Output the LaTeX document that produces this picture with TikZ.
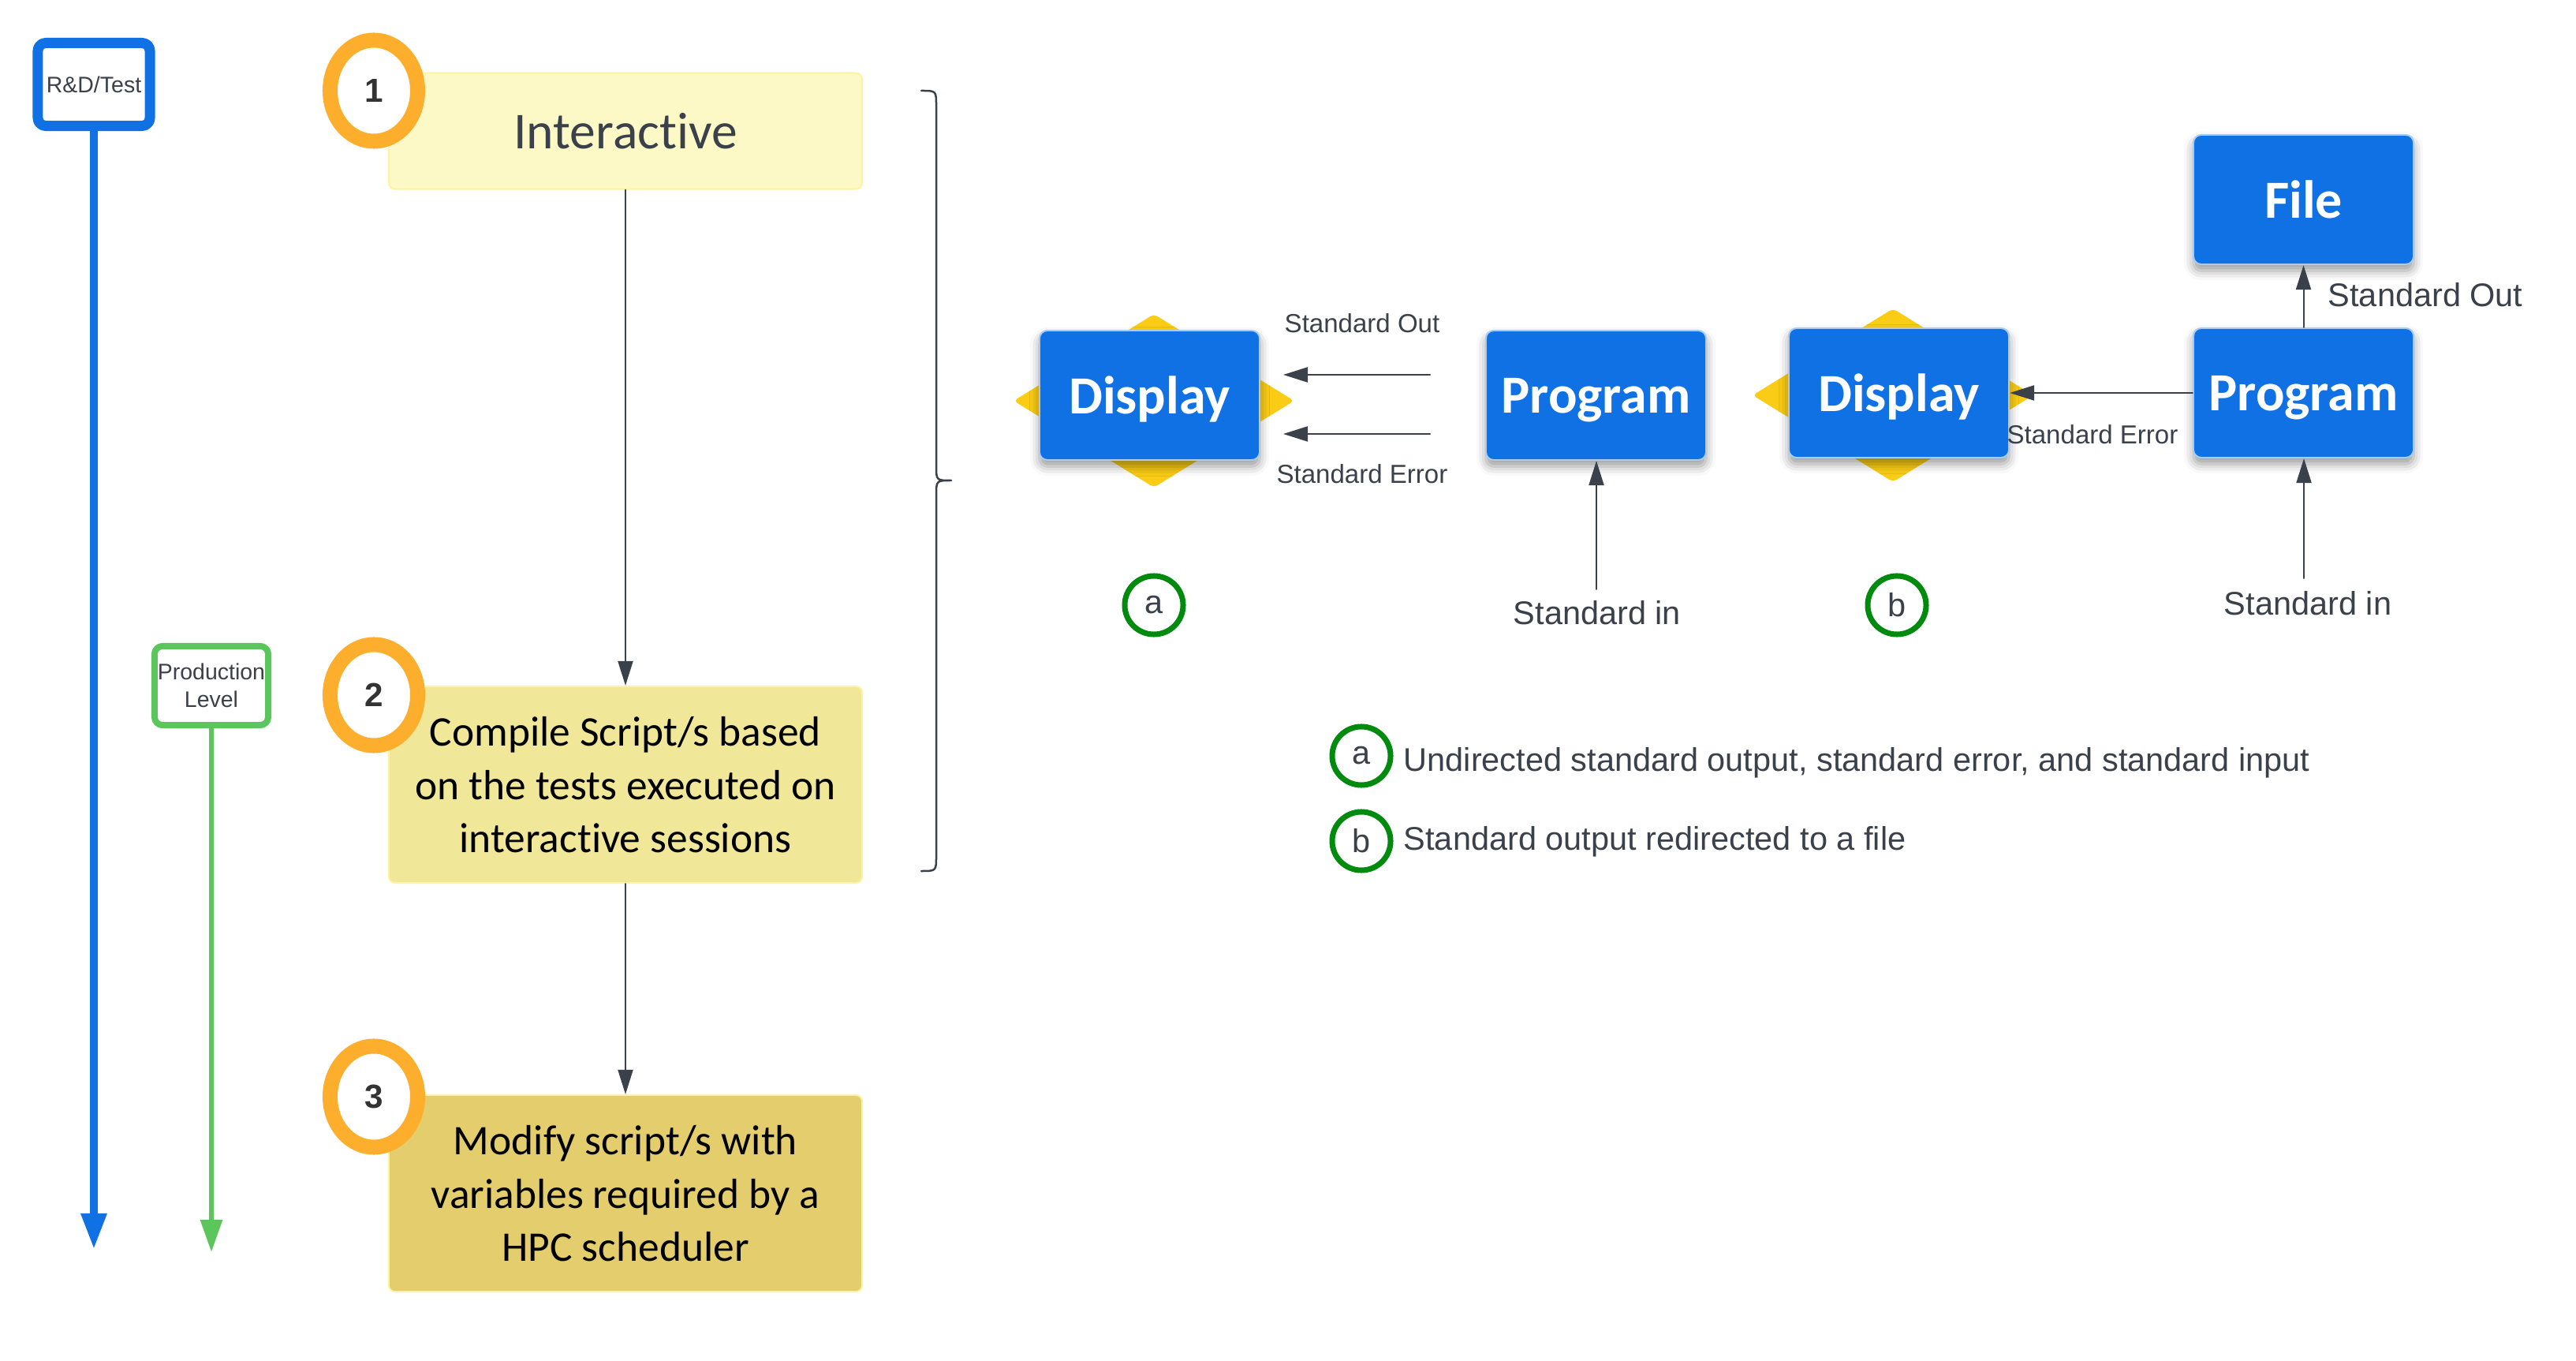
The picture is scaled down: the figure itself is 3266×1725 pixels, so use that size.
\documentclass[tikz,border=0pt]{standalone}
\usepackage{fontspec}
\setmainfont{Liberation Sans}
\newfontfamily\boxfont[Ligatures={NoCommon,NoContextual}]{Carlito}
\usetikzlibrary{arrows.meta,shapes.geometric,shadows.blur}
\definecolor{lucidblue}{HTML}{1071E5}
\definecolor{prodgreen}{HTML}{5BC65B}
\definecolor{ringorange}{HTML}{FEAE2D}
\definecolor{inkgray}{HTML}{3A414A}
\definecolor{numgray}{HTML}{333333}
\definecolor{stepone}{HTML}{FCF9C7}
\definecolor{steptwo}{HTML}{F0E898}
\definecolor{stepthree}{HTML}{E4CD6C}
\definecolor{stepedge}{HTML}{FFF3A0}
\definecolor{gemgold}{HTML}{FACC15}
\definecolor{markgreen}{HTML}{008A0E}
\definecolor{unitedge}{HTML}{A9CCF6}
\begin{document}
\begin{tikzpicture}[x=0.01cm,y=-0.01cm,line join=round,line cap=round,
	lane/.style={draw=#1,rounded corners=0.1cm,fill=white,text=inkgray,inner sep=0pt,align=center,font=\fontsize{8.1}{10}\selectfont},
	stepbox/.style={draw=stepedge,line width=0.02cm,rounded corners=0.08cm,minimum width=6cm,inner sep=0pt,text depth=0pt,align=center,font=\boxfont\fontsize{15.2}{19.1}\selectfont},
	ring/.style={ellipse,draw=ringorange,line width=0.19cm,fill=white,minimum width=1.11cm,minimum height=1.28cm,inner sep=0pt,text=numgray,font=\bfseries\fontsize{12}{14}\selectfont},
	gem/.style={diamond,fill=gemgold,minimum width=3.56cm,minimum height=2.2cm,inner sep=0pt,rounded corners=0.05cm},
	unit/.style={draw=unitedge,line width=0.02cm,fill=lucidblue,rounded corners=0.1cm,minimum width=2.79cm,minimum height=1.64cm,inner sep=0pt,text depth=0pt,text=white,font=\boxfont\bfseries\fontsize{19.35}{23}\selectfont,
		blur shadow={shadow xshift=0pt,shadow yshift=-0.08cm,shadow blur radius=0.12cm,shadow opacity=40}},
	flow/.style={draw=inkgray,line width=0.02cm,-{Triangle[length=0.31cm,width=0.19cm]}},
	smalltxt/.style={text=inkgray,inner sep=0pt,anchor=base,font=\fontsize{9.4}{11}\selectfont},
	bigtxt/.style={text=inkgray,inner sep=0pt,anchor=base,font=\fontsize{11.8}{14}\selectfont},
	markring/.style={circle,draw=markgreen,line width=0.07cm,minimum size=0.74cm,inner sep=0pt,text=inkgray,font=\fontsize{11.8}{14}\selectfont}]
	\useasboundingbox (0,0) rectangle (3266,1725);
	\path
	(119,1583) coordinate (RDend)
	(268,1587) coordinate (PLend)
	(1813,475) coordinate (Oa1)
	(1627,475) coordinate (Oa2)
	(1813,550) coordinate (Ea1)
	(1627,550) coordinate (Ea2)
	(2024,747) coordinate (Ia)
	(2921,733) coordinate (Ib);
	\node[lane=lucidblue,line width=0.13cm,minimum width=1.42cm,minimum height=1.05cm] (RD) at (119,107) {R\&D/Test};
	\node[lane=prodgreen,line width=0.08cm,minimum width=1.44cm,minimum height=1cm] (PL) at (268,869) {Production\\Level};
	\draw[lucidblue,line width=0.09cm,-{Triangle[length=0.45cm,width=0.31cm]}] (RD) -- (RDend);
	\draw[prodgreen,line width=0.06cm,-{Triangle[length=0.41cm,width=0.27cm]}] (PL) -- (PLend);
	\node[stepbox,fill=stepone,minimum height=1.47cm,text=inkgray,font=\boxfont\fontsize{18.66}{22}\selectfont] (I) at (793,166) {Interactive};
	\node[stepbox,fill=steptwo,minimum height=2.49cm] (C) at (793,994.5) {Compile Script/s based\\on the tests executed on\\interactive sessions};
	\node[stepbox,fill=stepthree,minimum height=2.49cm] (M) at (793,1512.5) {Modify script/s with\\variables required by a\\HPC scheduler};
	\node[ring] (N1) at (474,115) {1};
	\node[ring] (N2) at (474,881) {2};
	\node[ring] (N3) at (474,1390) {3};
	\draw[flow] (I) -- (C);
	\draw[flow] (C) -- (M);
	\draw[inkgray,line width=0.025cm] (1168,115) .. controls (1187,115) .. (1187,134) -- (1187,590) .. controls (1187,609) .. (1206,609) .. controls (1187,609) .. (1187,628) -- (1187,1085) .. controls (1187,1104) .. (1168,1104);
	\node[gem] (Ga) at (1463,508) {};
	\node[unit] (Da) at (1457.5,501) {Display};
	\node[unit] (Pa) at (2023.5,501) {Program};
	\draw[flow] (Oa1) -- (Oa2);
	\draw[flow] (Ea1) -- (Ea2);
	\draw[flow] (Ia) -- (Ia |- Pa.south);
	\node[smalltxt] (OaT) at (1727,422) {Standard Out};
	\node[smalltxt] (EaT) at (1727,613) {Standard Error};
	\node[bigtxt] (IaT) at (2025,792) {Standard in};
	\node[markring] (Ma) at (1463,767) {a};
	\node[gem] (Gb) at (2400,501) {};
	\node[unit] (Db) at (2407.5,498) {Display};
	\node[unit] (Pb) at (2920.5,498) {Program};
	\node[unit] (F) at (2920.5,253) {File};
	\draw[flow] (Pb) -- (F);
	\draw[flow] (Pb) -- (Db);
	\draw[flow] (Ib) -- (Ib |- Pb.south);
	\node[bigtxt,anchor=base west] (ObT) at (2951,389) {Standard Out};
	\node[smalltxt] (EbT) at (2653,563) {Standard Error};
	\node[bigtxt] (IbT) at (2926,780) {Standard in};
	\node[markring] (Mb) at (2405,767) {b};
	\node[markring] (Ka) at (1726,958) {a};
	\node[markring] (Kb) at (1726,1066) {b};
	\node[bigtxt,anchor=base west] (KaT) at (1779,977) {Undirected standard output, standard error, and standard input};
	\node[bigtxt,anchor=base west] (KbT) at (1779,1077) {Standard output redirected to a file};
\end{tikzpicture}
\end{document}
